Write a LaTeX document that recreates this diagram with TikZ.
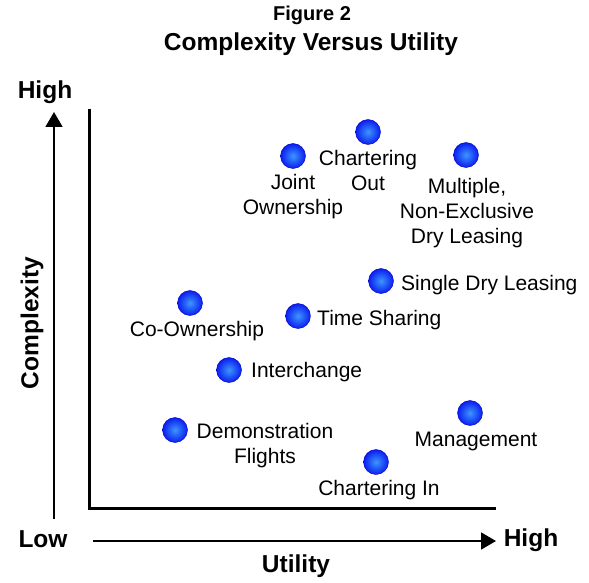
\documentclass[tikz,border=0pt]{standalone}
\usepackage{fontspec}
\setmainfont{Liberation Sans}
\usetikzlibrary{arrows.meta}
\begin{document}
\begin{tikzpicture}[x={(1pt,0)},y={(0,-1pt)},
  dot/.style={circle,minimum size=25pt,inner sep=0pt,draw=blue!75!black,line width=0.4pt,
    inner color={rgb,255:red,60;green,150;blue,255},outer color={rgb,255:red,10;green,30;blue,240}},
  lbl/.style={font=\fontsize{21}{25}\selectfont,align=center,inner sep=0pt},
  axlbl/.style={font=\fontsize{24.5}{28}\selectfont\bfseries,inner sep=0pt},
  frame/.style={line width=3pt},
  axarrow/.style={line width=1.7pt,-{Triangle[length=15pt,width=17pt]}}]
\useasboundingbox (0,0) rectangle (589,583);
% titles
\node[font=\fontsize{20}{24}\selectfont\bfseries,inner sep=0pt] (fig) at (312,15) {Figure 2};
\node[axlbl] (title) at (311,44) {Complexity Versus Utility};
% frame
\coordinate (ftop) at (89,109);
\coordinate (fcorner) at (89,508);
\coordinate (fright) at (496,508);
\draw[frame] (ftop) -- (fcorner) -- (fright);
% axis arrows
\coordinate (vstart) at (54,519);
\coordinate (vend) at (54,112);
\coordinate (hstart) at (93,541);
\coordinate (hend) at (496,541);
\draw[axarrow] (vstart) -- (vend);
\draw[axarrow] (hstart) -- (hend);
\node[axlbl] (hightop) at (45,92) {High};
\node[axlbl] (low) at (43,539) {Low};
\node[axlbl] (highright) at (531,540) {High};
\node[axlbl] (utility) at (296,566) {Utility};
\node[axlbl,rotate=90] (complexity) at (32,323) {Complexity};
% dots and labels
\node[dot] (d1) at (368,132) {};
\node[lbl] (t1) at (368,170) {Chartering\\Out};
\node[dot] (d2) at (293,156) {};
\node[lbl] (t2) at (293,197) {Joint\\Ownership};
\node[dot] (d3) at (466,155) {};
\node[lbl] (t3) at (467,213) {Multiple,\\Non-Exclusive\\Dry Leasing};
\node[dot] (d4) at (381,281) {};
\node[lbl,anchor=west] (t4) at (401,285) {Single Dry Leasing};
\node[dot] (d5) at (190,303) {};
\node[lbl] (t5) at (197,331) {Co-Ownership};
\node[dot] (d6) at (298,316) {};
\node[lbl,anchor=west] (t6) at (317,320) {Time Sharing};
\node[dot] (d7) at (229,370) {};
\node[lbl,anchor=west] (t7) at (251,372) {Interchange};
\node[dot] (d8) at (175,430) {};
\node[lbl] (t8) at (265,446) {Demonstration\\Flights};
\node[dot] (d9) at (470,413) {};
\node[lbl] (t9) at (476,441) {Management};
\node[dot] (d10) at (376,462) {};
\node[lbl] (t10) at (379,490) {Chartering In};
\end{tikzpicture}
\end{document}
